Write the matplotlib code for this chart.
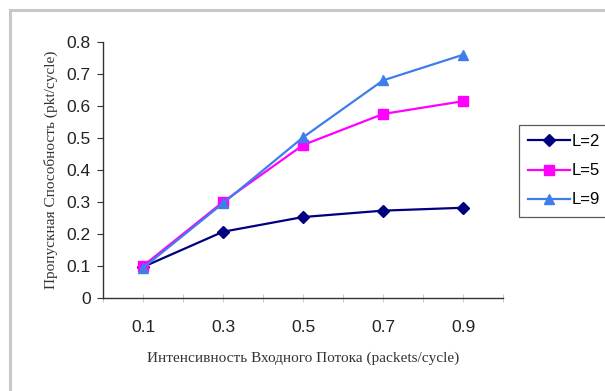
import matplotlib
matplotlib.use("Agg")
import matplotlib.pyplot as plt

# throughput vs offered load for three buffer lengths
loads = ["0.1", "0.3", "0.5", "0.7", "0.9"]
l2 = [0.097, 0.207, 0.253, 0.273, 0.282]
l5 = [0.100, 0.300, 0.478, 0.575, 0.615]
l9 = [0.094, 0.296, 0.502, 0.680, 0.760]
yticks = [0, 0.1, 0.2, 0.3, 0.4, 0.5, 0.6, 0.7, 0.8]
ytick_labels = ["0", "0.1", "0.2", "0.3", "0.4", "0.5", "0.6", "0.7", "0.8"]

fig = plt.figure(figsize=(6.05, 3.91), dpi=100)
fig.patch.set_facecolor("white")

# outer chart frame (top and left edges only)
fig.add_artist(plt.Line2D([10 / 605, 1.0], [1 - 10 / 391] * 2, color="#c8c8c8", lw=2.2))
fig.add_artist(plt.Line2D([10 / 605] * 2, [0.0, 1 - 10 / 391], color="#c8c8c8", lw=2.2))

ax = fig.add_axes([103 / 605, 1 - 298 / 391, 400 / 605, 256 / 391])
x = list(range(len(loads)))

ax.plot(x, l2, color="#000080", marker="D", ms=6, lw=1.6, label="L=2")
ax.plot(x, l5, color="#ff00ff", marker="s", ms=7, lw=1.6, label="L=5")
ax.plot(x, l9, color="#3d7eeb", marker="^", ms=7.5, lw=1.6, label="L=9")

ax.set_xlim(-0.5, len(loads) - 0.5)
ax.set_ylim(0, 0.8)
ax.set_xticks(x)
ax.set_xticklabels(loads)
ax.set_xticks([i - 0.5 for i in range(len(loads) + 1)], minor=True)
ax.set_yticks(yticks)
ax.set_yticklabels(ytick_labels)

for s in ("top", "right"):
    ax.spines[s].set_visible(False)
for s in ("left", "bottom"):
    ax.spines[s].set_color("#333333")
    ax.spines[s].set_linewidth(1.0)

ax.tick_params(axis="y", direction="out", length=4, color="#333333",
               labelsize=12.5, labelcolor="#222222", pad=5)
ax.tick_params(axis="x", which="major", direction="inout", length=6,
               color="#d0d0d0", labelsize=12.5, labelcolor="#222222", pad=13)
ax.tick_params(axis="x", which="minor", direction="inout", length=6,
               color="#c0c0c0")
for lbl in ax.get_xticklabels() + ax.get_yticklabels():
    lbl.set_family("Liberation Sans")

ax.set_xlabel("Интенсивность Входного Потока (packets/cycle)",
              family="Liberation Serif", fontsize=11, color="#333333", labelpad=12)
ax.set_ylabel("Пропускная Способность (pkt/cycle)",
              family="Liberation Serif", fontsize=11, color="#333333", labelpad=6)

leg = fig.legend(loc="upper left", bbox_to_anchor=(519 / 605, 1 - 125 / 391),
                 frameon=True, fancybox=False, edgecolor="#333333",
                 prop={"family": "Liberation Sans", "size": 12},
                 handlelength=2.5, handletextpad=0.1, borderpad=0.55,
                 labelspacing=0.85, borderaxespad=0)
leg.get_frame().set_linewidth(0.9)

fig.savefig("out.png", dpi=100)
